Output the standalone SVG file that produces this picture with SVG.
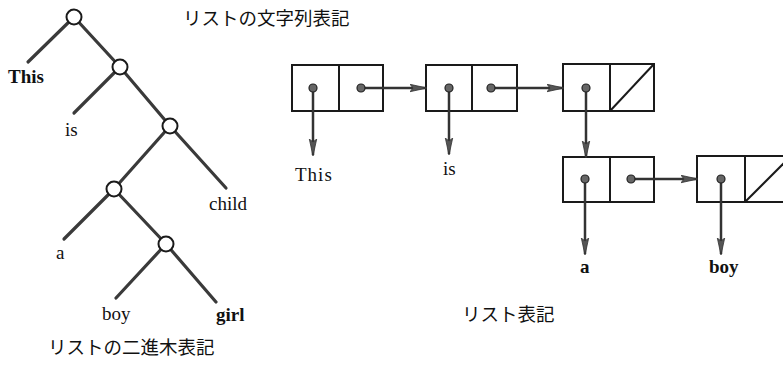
<svg xmlns="http://www.w3.org/2000/svg" width="783" height="365" viewBox="0 0 783 365">
  <style>
    .edge { stroke: #3a3a3a; stroke-width: 3.2; stroke-linecap: round; fill: none; }
    .knot { fill: #fff; stroke: #1a1a1a; stroke-width: 2; }
    .lat { font-family: "Liberation Serif", "DejaVu Serif", serif; font-size: 19px; fill: #111; }
    .b { font-weight: bold; }
    .jp { font-family: "Noto Sans CJK JP", sans-serif; font-size: 18.5px; fill: #111; }
    .cell { fill: #fff; stroke: #1a1a1a; stroke-width: 2; }
    .ptr { stroke: #333; stroke-width: 2.5; fill: none; marker-end: url(#head); }
    .dot { fill: #666; stroke: #222; stroke-width: 1.2; }
  </style>
  <defs>
    <marker id="head" markerUnits="userSpaceOnUse" markerWidth="18" markerHeight="10" refX="16" refY="4.5" orient="auto">
      <path d="M0,0.8 L17,4.5 L0,8.2 L3,4.5 Z" fill="#555" stroke="#333" stroke-width="0.8"/>
    </marker>
  </defs>

  <!-- binary tree form -->
  <g id="tree-edges">
    <line class="edge" x1="74" y1="17" x2="28" y2="62"/>
    <line class="edge" x1="74" y1="17" x2="120" y2="67"/>
    <line class="edge" x1="120" y1="67" x2="74" y2="113"/>
    <line class="edge" x1="120" y1="67" x2="170" y2="126"/>
    <line class="edge" x1="170" y1="126" x2="114" y2="189"/>
    <line class="edge" x1="170" y1="126" x2="226" y2="188"/>
    <line class="edge" x1="114" y1="189" x2="64" y2="239"/>
    <line class="edge" x1="114" y1="189" x2="166" y2="244"/>
    <line class="edge" x1="166" y1="244" x2="116" y2="298"/>
    <line class="edge" x1="166" y1="244" x2="216" y2="302"/>
  </g>
  <g id="t-root"><circle class="knot" cx="74" cy="17" r="7.5"/></g>
  <g id="t-n2"><circle class="knot" cx="120" cy="67" r="7.5"/></g>
  <g id="t-n3"><circle class="knot" cx="170" cy="126" r="7.5"/></g>
  <g id="t-n4"><circle class="knot" cx="114" cy="189" r="7.5"/></g>
  <g id="t-n5"><circle class="knot" cx="166" cy="244" r="7.5"/></g>
  <g id="t-leaves">
    <text class="lat b" x="8" y="83">This</text>
    <text class="lat" x="65" y="136">is</text>
    <text class="lat" x="209" y="210">child</text>
    <text class="lat" x="56" y="259" font-size="17">a</text>
    <text class="lat" x="102" y="320">boy</text>
    <text class="lat b" x="216" y="321">girl</text>
  </g>

  <!-- captions -->
  <text class="jp" x="183" y="25">リストの文字列表記</text>
  <text class="jp" x="48" y="354" font-size="18">リストの二進木表記</text>
  <text class="jp" x="462" y="321" font-size="18">リスト表記</text>

  <!-- cons cells -->
  <g id="cell1">
    <rect class="cell" x="292" y="65" width="91" height="46"/>
    <line class="cell" x1="339" y1="65" x2="339" y2="111"/>
  </g>
  <g id="cell2">
    <rect class="cell" x="426" y="65" width="91" height="46"/>
    <line class="cell" x1="472" y1="65" x2="472" y2="111"/>
  </g>
  <g id="cell3">
    <rect class="cell" x="563" y="64" width="91" height="47"/>
    <line class="cell" x1="610" y1="64" x2="610" y2="111"/>
    <line class="cell" x1="610" y1="111" x2="654" y2="64"/>
  </g>
  <g id="cell4">
    <rect class="cell" x="563" y="157" width="91" height="45"/>
    <line class="cell" x1="610" y1="157" x2="610" y2="202"/>
  </g>
  <g id="cell5">
    <rect class="cell" x="697" y="156" width="94" height="46"/>
    <line class="cell" x1="745" y1="156" x2="745" y2="202"/>
    <line class="cell" x1="745" y1="202" x2="791" y2="156"/>
  </g>

  <g id="pointers">
    <line class="ptr" x1="313" y1="88" x2="313" y2="155"/>
    <line class="ptr" x1="361" y1="88" x2="426" y2="88"/>
    <line class="ptr" x1="449" y1="88" x2="449" y2="154"/>
    <line class="ptr" x1="491" y1="88" x2="563" y2="88"/>
    <line class="ptr" x1="586" y1="88" x2="586" y2="157"/>
    <line class="ptr" x1="585" y1="179" x2="585" y2="254"/>
    <line class="ptr" x1="631" y1="179" x2="697" y2="179"/>
    <line class="ptr" x1="721" y1="179" x2="721" y2="254"/>
    <circle class="dot" cx="313" cy="88" r="4"/>
    <circle class="dot" cx="361" cy="88" r="4"/>
    <circle class="dot" cx="449" cy="88" r="4"/>
    <circle class="dot" cx="491" cy="88" r="4"/>
    <circle class="dot" cx="586" cy="88" r="4"/>
    <circle class="dot" cx="585" cy="179" r="4"/>
    <circle class="dot" cx="631" cy="179" r="4"/>
    <circle class="dot" cx="721" cy="179" r="4"/>
  </g>

  <g id="atoms">
    <text class="lat" x="295" y="181" font-size="18" letter-spacing="1">This</text>
    <text class="lat" x="443" y="175" font-size="18">is</text>
    <text class="lat b" x="580" y="273" font-size="18">a</text>
    <text class="lat b" x="709" y="273" font-size="18">boy</text>
  </g>
</svg>
